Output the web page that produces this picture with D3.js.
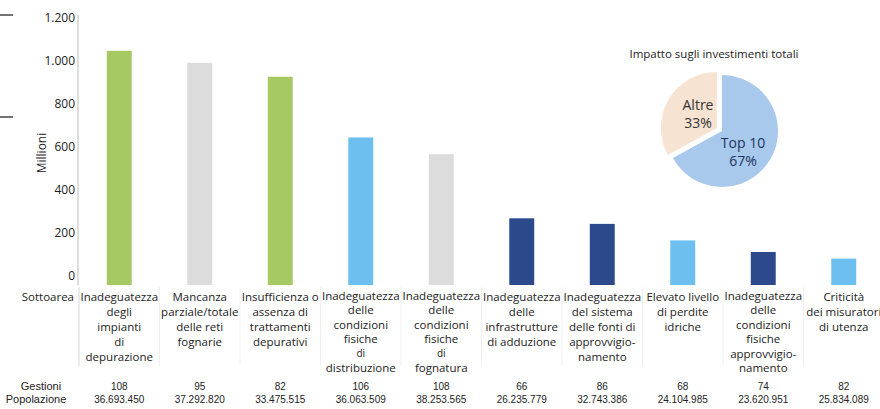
<!DOCTYPE html>
<html>
<head>
<meta charset="utf-8">
<script src="https://cdn.jsdelivr.net/npm/d3@7"></script>
<style>
  body { margin: 0; background: #fff; }
  text { font-family: "Open Sans", "Noto Sans", sans-serif; fill: #222; }
  text.num { font-family: "Liberation Sans", Arial, sans-serif; }
</style>
</head>
<body>
<div id="chart"></div>
<script>
// Investimenti per sottoarea (Top 10) - bar chart + pie
const categories = [
    ["Inadeguatezza", "degli", "impianti", "di", "depurazione"],
    ["Mancanza", "parziale/totale", "delle reti", "fognarie"],
    ["Insufficienza o", "assenza di", "trattamenti", "depurativi"],
    ["Inadeguatezza", "delle", "condizioni", "fisiche", "di", "distribuzione"],
    ["Inadeguatezza", "delle", "condizioni", "fisiche", "di", "fognatura"],
    ["Inadeguatezza", "delle", "infrastrutture", "di adduzione"],
    ["Inadeguatezza", "del sistema", "delle fonti di", "approvvigio-", "namento"],
    ["Elevato livello", "di perdite", "idriche"],
    ["Inadeguatezza", "delle", "condizioni", "fisiche", "approvvigio-", "namento"],
    ["Criticità", "dei misuratori", "di utenza"]
];
const values = [1047, 991, 926, 643, 565, 266, 240, 163, 109, 78];
const groups = ["dep", "fog", "dep", "dist", "fog", "add", "add", "dist", "add", "dist"];
const gestioni = [108, 95, 82, 106, 108, 66, 86, 68, 74, 82];
const popolazione = [36693450, 37292820, 33475515, 36063509, 38253565, 26235779, 32743386, 24104985, 23620951, 25834089];
const yTicks = [0, 200, 400, 600, 800, 1000, 1200];

const pieNames = ["Top 10", "Altre"];
const pieValues = [67, 33];

const width = 880;
const height = 409;

const it = d3.formatLocale({ decimal: ",", thousands: ".", grouping: [3], currency: ["€", ""] });
const fmt = it.format(",d");

const svg = d3.select("#chart").append("svg")
    .attr("width", width)
    .attr("height", height);

// little marks at the left page edge
svg.append("line").attr("x1", 0).attr("x2", 13).attr("y1", 15).attr("y2", 15)
    .attr("stroke", "#444").attr("stroke-width", 1.5);
svg.append("line").attr("x1", 0).attr("x2", 13).attr("y1", 117).attr("y2", 117)
    .attr("stroke", "#444").attr("stroke-width", 1.5);

const x = d3.scaleBand()
    .domain(d3.range(values.length))
    .range([79, 884])
    .paddingInner(0.69)
    .paddingOuter(0.345);

// bars start a bit below the "0" label, like in the original
const y = d3.scaleLinear()
    .domain([-45, 1200])
    .range([285, 18]);

const color = d3.scaleOrdinal()
    .domain(["dep", "fog", "dist", "add"])
    .range(["#a6c964", "#dcdcdc", "#6dbff0", "#2c4a8b"]);

// column separators under the plot
const step = x.step();
d3.range(values.length + 1).forEach(i => {
    const sx = 79 + i * step;
    svg.append("line")
        .attr("x1", sx).attr("x2", sx)
        .attr("y1", 287).attr("y2", 366)
        .attr("stroke", i === 0 ? "#d8d8d8" : "#f0f0f0")
        .attr("stroke-width", 1);
});

// y axis
svg.append("line")
    .attr("x1", 78).attr("x2", 78)
    .attr("y1", 15).attr("y2", 285)
    .attr("stroke", "#bdbdbd");

const yAxis = svg.append("g")
    .attr("transform", "translate(75,0)")
    .call(d3.axisLeft(y).tickValues(yTicks).tickSize(0).tickPadding(0).tickFormat(fmt));
yAxis.select(".domain").remove();
yAxis.selectAll("text")
    .style("font-size", "12px")
    .style("fill", "#222");

svg.append("text")
    .attr("transform", "rotate(-90)")
    .attr("x", -153)
    .attr("y", 46)
    .attr("text-anchor", "middle")
    .style("font-size", "12px")
    .text("Millioni");

svg.selectAll("rect.bar")
    .data(values)
    .join("rect")
    .attr("class", "bar")
    .attr("x", (d, i) => x(i))
    .attr("width", x.bandwidth())
    .attr("y", d => y(d))
    .attr("height", d => y(-45) - y(d))
    .attr("fill", (d, i) => color(groups[i]));

// category labels
svg.append("text")
    .attr("x", 74).attr("y", 297).attr("dy", "0.35em")
    .attr("text-anchor", "end")
    .style("font-size", "11.5px")
    .text("Sottoarea");

categories.forEach((lines, i) => {
    const cx = x(i) + x.bandwidth() / 2;
    const lh = lines.length >= 6 ? 14.4 : 15;
    const t = svg.append("text")
        .attr("text-anchor", "middle")
        .style("font-size", "11.5px");
    lines.forEach((l, j) => {
        t.append("tspan")
            .attr("x", cx)
            .attr("y", (lines.length >= 6 ? 296 : 297) + j * lh)
            .attr("dy", "0.35em")
            .style("font-size", (l === "di" && lines.length >= 6) ? "10px" : null)
            .text(l);
    });
});

svg.append("text")
    .attr("class", "num")
    .attr("x", 41).attr("y", 386).attr("dy", "0.35em")
    .attr("text-anchor", "middle")
    .style("font-size", "11px")
    .text("Gestioni");
svg.append("text")
    .attr("class", "num")
    .attr("x", 36).attr("y", 399).attr("dy", "0.35em")
    .attr("text-anchor", "middle")
    .style("font-size", "11px")
    .text("Popolazione");

svg.selectAll("text.gest")
    .data(gestioni)
    .join("text")
    .attr("class", "num gest")
    .attr("x", (d, i) => x(i) + x.bandwidth() / 2)
    .attr("y", 386.5).attr("dy", "0.35em")
    .attr("text-anchor", "middle")
    .style("font-size", "10px")
    .text(d => d);

svg.selectAll("text.pop")
    .data(popolazione)
    .join("text")
    .attr("class", "num pop")
    .attr("x", (d, i) => x(i) + x.bandwidth() / 2)
    .attr("y", 399).attr("dy", "0.35em")
    .attr("text-anchor", "middle")
    .style("font-size", "10px")
    .text(d => fmt(d));

// pie
const pieG = svg.append("g").attr("transform", "translate(722,131)");
const r = 56;
const arcs = d3.pie().sort(null)(pieValues);
const arc = d3.arc().innerRadius(0).outerRadius(r);
const pieColor = ["#a8c8ec", "#f6e3d2"];
const pieText = ["#1d3461", "#333"];

arcs.forEach((a, i) => {
    const mid = (a.startAngle + a.endAngle) / 2;
    const off = i === 1 ? 6 : 0;
    const g = pieG.append("g")
        .attr("transform", `translate(${Math.sin(mid) * off},${-Math.cos(mid) * off})`);
    g.append("path")
        .attr("d", arc(a))
        .attr("fill", pieColor[i]);
});

const pieLabelPos = [[21, 12], [-24, -26]];
arcs.forEach((a, i) => {
    const t = pieG.append("text")
        .attr("text-anchor", "middle")
        .style("font-size", "14px")
        .style("fill", pieText[i]);
    t.append("tspan").attr("x", pieLabelPos[i][0]).attr("y", pieLabelPos[i][1]).attr("dy", "0.35em").text(pieNames[i]);
    t.append("tspan").attr("x", pieLabelPos[i][0]).attr("y", pieLabelPos[i][1] + 18).attr("dy", "0.35em").text(pieValues[i] + "%");
});

svg.append("text")
    .attr("x", 714).attr("y", 54).attr("dy", "0.35em")
    .attr("text-anchor", "middle")
    .style("font-size", "11.5px")
    .text("Impatto sugli investimenti totali");
</script>
</body>
</html>
